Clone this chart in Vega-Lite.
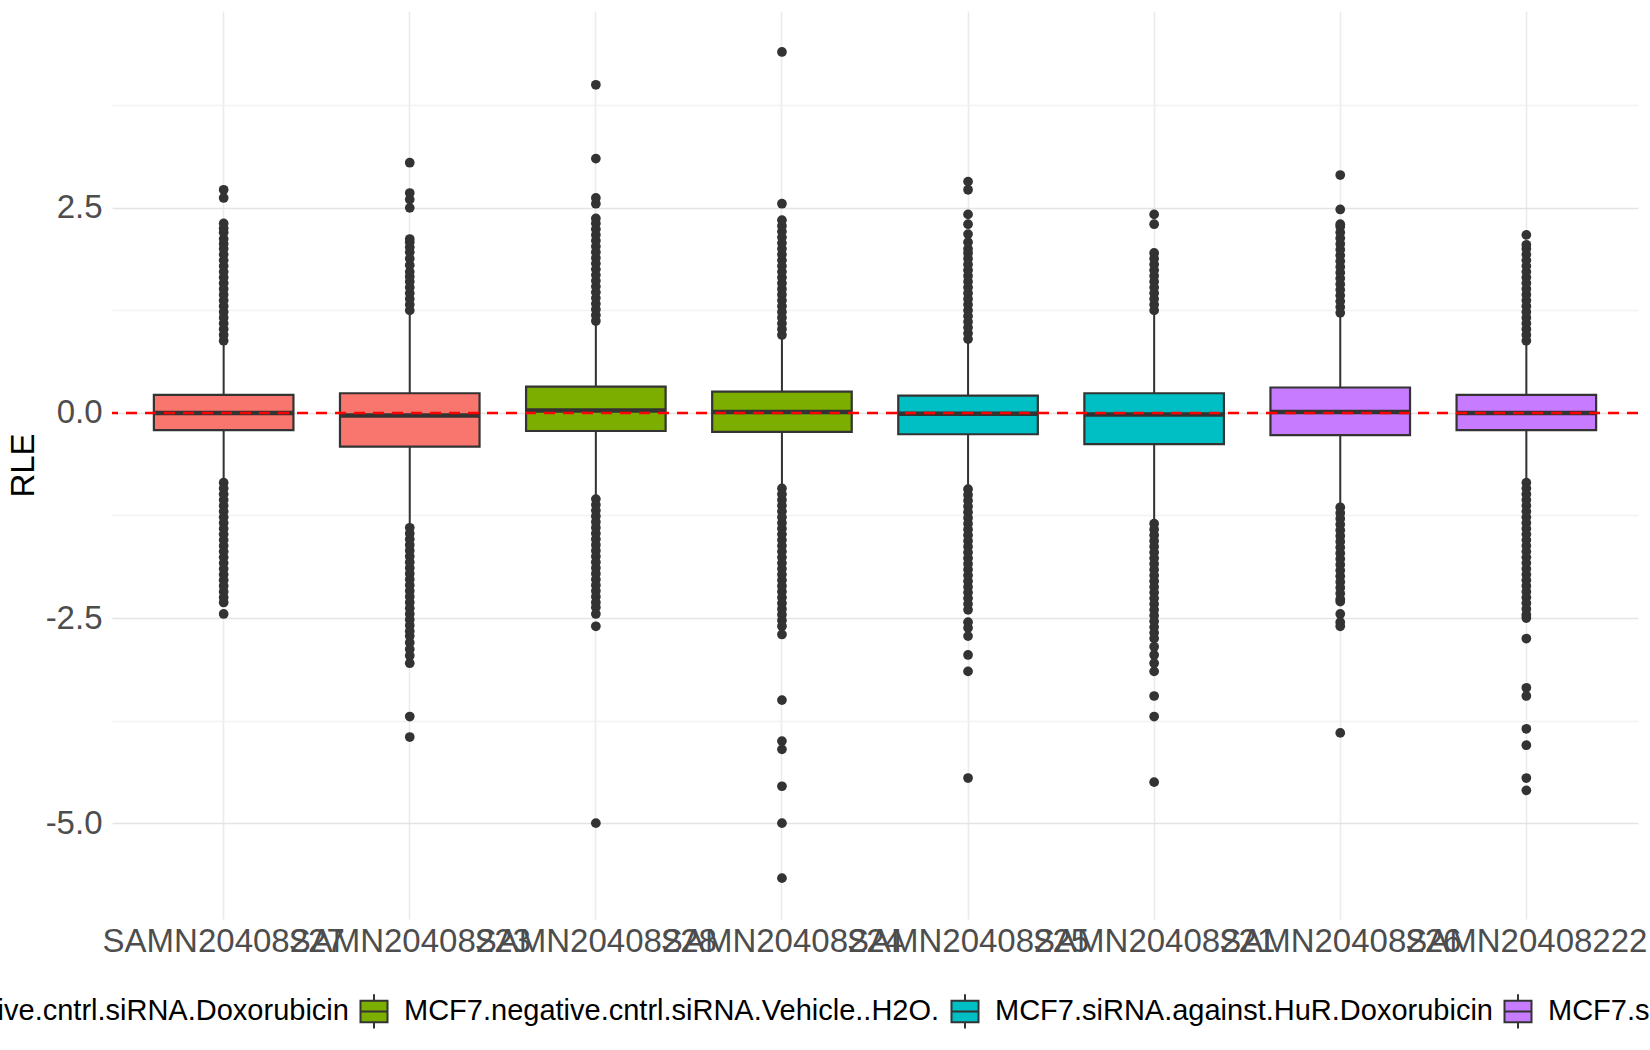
{
"$schema":"https://vega.github.io/schema/vega-lite/v6.json",
"autosize":"none",
"width":1526,"height":908,
"padding":{"left":112,"top":11,"right":12,"bottom":131},
"background":"white",
"config":{"font":"Liberation Sans","view":{"stroke":null}},
"datasets":{
"boxes":[
{"s":"SAMN20408227","g":"MCF7.negative.cntrl.siRNA.Doxorubicin","lo":-0.83,"q1":-0.21,"med":0.0,"q3":0.22,"hi":0.85},
{"s":"SAMN20408223","g":"MCF7.negative.cntrl.siRNA.Doxorubicin","lo":-1.37,"q1":-0.41,"med":-0.03,"q3":0.24,"hi":1.2},
{"s":"SAMN20408228","g":"MCF7.negative.cntrl.siRNA.Vehicle..H2O.","lo":-1.02,"q1":-0.22,"med":0.03,"q3":0.32,"hi":1.1},
{"s":"SAMN20408224","g":"MCF7.negative.cntrl.siRNA.Vehicle..H2O.","lo":-0.89,"q1":-0.23,"med":0.01,"q3":0.26,"hi":0.92},
{"s":"SAMN20408225","g":"MCF7.siRNA.against.HuR.Doxorubicin","lo":-0.9,"q1":-0.26,"med":-0.01,"q3":0.21,"hi":0.87},
{"s":"SAMN20408221","g":"MCF7.siRNA.against.HuR.Doxorubicin","lo":-1.32,"q1":-0.38,"med":-0.02,"q3":0.24,"hi":1.22},
{"s":"SAMN20408226","g":"MCF7.siRNA.against.HuR.Vehicle..H2O.","lo":-1.12,"q1":-0.27,"med":0.01,"q3":0.31,"hi":1.19},
{"s":"SAMN20408222","g":"MCF7.siRNA.against.HuR.Vehicle..H2O.","lo":-0.82,"q1":-0.21,"med":0.0,"q3":0.22,"hi":0.85}
],
"ref":[{"y":0}],
"out":[
{"s":"SAMN20408227","v":0.88},{"s":"SAMN20408227","v":0.95},{"s":"SAMN20408227","v":1.02},{"s":"SAMN20408227","v":1.09},{"s":"SAMN20408227","v":1.16},{"s":"SAMN20408227","v":1.23},{"s":"SAMN20408227","v":1.30},{"s":"SAMN20408227","v":1.37},{"s":"SAMN20408227","v":1.44},{"s":"SAMN20408227","v":1.51},{"s":"SAMN20408227","v":1.58},{"s":"SAMN20408227","v":1.65},{"s":"SAMN20408227","v":1.72},{"s":"SAMN20408227","v":1.79},{"s":"SAMN20408227","v":1.86},{"s":"SAMN20408227","v":1.93},{"s":"SAMN20408227","v":2.00},{"s":"SAMN20408227","v":2.06},{"s":"SAMN20408227","v":2.12},{"s":"SAMN20408227","v":2.20},{"s":"SAMN20408227","v":2.25},{"s":"SAMN20408227","v":2.31},{"s":"SAMN20408227","v":2.62},{"s":"SAMN20408227","v":2.72},
{"s":"SAMN20408227","v":-0.85},{"s":"SAMN20408227","v":-0.92},{"s":"SAMN20408227","v":-0.99},{"s":"SAMN20408227","v":-1.06},{"s":"SAMN20408227","v":-1.13},{"s":"SAMN20408227","v":-1.20},{"s":"SAMN20408227","v":-1.27},{"s":"SAMN20408227","v":-1.34},{"s":"SAMN20408227","v":-1.41},{"s":"SAMN20408227","v":-1.48},{"s":"SAMN20408227","v":-1.55},{"s":"SAMN20408227","v":-1.62},{"s":"SAMN20408227","v":-1.69},{"s":"SAMN20408227","v":-1.76},{"s":"SAMN20408227","v":-1.83},{"s":"SAMN20408227","v":-1.90},{"s":"SAMN20408227","v":-1.97},{"s":"SAMN20408227","v":-2.04},{"s":"SAMN20408227","v":-2.11},{"s":"SAMN20408227","v":-2.18},{"s":"SAMN20408227","v":-2.25},{"s":"SAMN20408227","v":-2.31},{"s":"SAMN20408227","v":-2.45},
{"s":"SAMN20408223","v":1.25},{"s":"SAMN20408223","v":1.32},{"s":"SAMN20408223","v":1.39},{"s":"SAMN20408223","v":1.46},{"s":"SAMN20408223","v":1.53},{"s":"SAMN20408223","v":1.60},{"s":"SAMN20408223","v":1.66},{"s":"SAMN20408223","v":1.72},{"s":"SAMN20408223","v":1.80},{"s":"SAMN20408223","v":1.88},{"s":"SAMN20408223","v":1.96},{"s":"SAMN20408223","v":2.02},{"s":"SAMN20408223","v":2.08},{"s":"SAMN20408223","v":2.12},{"s":"SAMN20408223","v":2.50},{"s":"SAMN20408223","v":2.60},{"s":"SAMN20408223","v":2.68},{"s":"SAMN20408223","v":3.05},
{"s":"SAMN20408223","v":-1.40},{"s":"SAMN20408223","v":-1.47},{"s":"SAMN20408223","v":-1.54},{"s":"SAMN20408223","v":-1.61},{"s":"SAMN20408223","v":-1.68},{"s":"SAMN20408223","v":-1.75},{"s":"SAMN20408223","v":-1.82},{"s":"SAMN20408223","v":-1.89},{"s":"SAMN20408223","v":-1.96},{"s":"SAMN20408223","v":-2.03},{"s":"SAMN20408223","v":-2.10},{"s":"SAMN20408223","v":-2.17},{"s":"SAMN20408223","v":-2.24},{"s":"SAMN20408223","v":-2.31},{"s":"SAMN20408223","v":-2.38},{"s":"SAMN20408223","v":-2.45},{"s":"SAMN20408223","v":-2.52},{"s":"SAMN20408223","v":-2.59},{"s":"SAMN20408223","v":-2.66},{"s":"SAMN20408223","v":-2.72},{"s":"SAMN20408223","v":-2.80},{"s":"SAMN20408223","v":-2.88},{"s":"SAMN20408223","v":-2.96},{"s":"SAMN20408223","v":-3.05},{"s":"SAMN20408223","v":-3.70},{"s":"SAMN20408223","v":-3.95},
{"s":"SAMN20408228","v":1.12},{"s":"SAMN20408228","v":1.19},{"s":"SAMN20408228","v":1.26},{"s":"SAMN20408228","v":1.33},{"s":"SAMN20408228","v":1.40},{"s":"SAMN20408228","v":1.47},{"s":"SAMN20408228","v":1.54},{"s":"SAMN20408228","v":1.61},{"s":"SAMN20408228","v":1.68},{"s":"SAMN20408228","v":1.75},{"s":"SAMN20408228","v":1.82},{"s":"SAMN20408228","v":1.89},{"s":"SAMN20408228","v":1.96},{"s":"SAMN20408228","v":2.03},{"s":"SAMN20408228","v":2.10},{"s":"SAMN20408228","v":2.17},{"s":"SAMN20408228","v":2.24},{"s":"SAMN20408228","v":2.31},{"s":"SAMN20408228","v":2.37},{"s":"SAMN20408228","v":2.55},{"s":"SAMN20408228","v":2.62},{"s":"SAMN20408228","v":3.10},{"s":"SAMN20408228","v":4.00},
{"s":"SAMN20408228","v":-1.05},{"s":"SAMN20408228","v":-1.12},{"s":"SAMN20408228","v":-1.19},{"s":"SAMN20408228","v":-1.26},{"s":"SAMN20408228","v":-1.33},{"s":"SAMN20408228","v":-1.40},{"s":"SAMN20408228","v":-1.47},{"s":"SAMN20408228","v":-1.54},{"s":"SAMN20408228","v":-1.61},{"s":"SAMN20408228","v":-1.68},{"s":"SAMN20408228","v":-1.75},{"s":"SAMN20408228","v":-1.82},{"s":"SAMN20408228","v":-1.89},{"s":"SAMN20408228","v":-1.96},{"s":"SAMN20408228","v":-2.03},{"s":"SAMN20408228","v":-2.10},{"s":"SAMN20408228","v":-2.17},{"s":"SAMN20408228","v":-2.24},{"s":"SAMN20408228","v":-2.31},{"s":"SAMN20408228","v":-2.37},{"s":"SAMN20408228","v":-2.45},{"s":"SAMN20408228","v":-2.60},{"s":"SAMN20408228","v":-5.00},
{"s":"SAMN20408224","v":0.95},{"s":"SAMN20408224","v":1.02},{"s":"SAMN20408224","v":1.09},{"s":"SAMN20408224","v":1.16},{"s":"SAMN20408224","v":1.23},{"s":"SAMN20408224","v":1.30},{"s":"SAMN20408224","v":1.37},{"s":"SAMN20408224","v":1.44},{"s":"SAMN20408224","v":1.51},{"s":"SAMN20408224","v":1.58},{"s":"SAMN20408224","v":1.65},{"s":"SAMN20408224","v":1.72},{"s":"SAMN20408224","v":1.79},{"s":"SAMN20408224","v":1.86},{"s":"SAMN20408224","v":1.93},{"s":"SAMN20408224","v":2.00},{"s":"SAMN20408224","v":2.07},{"s":"SAMN20408224","v":2.14},{"s":"SAMN20408224","v":2.21},{"s":"SAMN20408224","v":2.28},{"s":"SAMN20408224","v":2.35},{"s":"SAMN20408224","v":2.55},{"s":"SAMN20408224","v":4.40},
{"s":"SAMN20408224","v":-0.92},{"s":"SAMN20408224","v":-0.99},{"s":"SAMN20408224","v":-1.06},{"s":"SAMN20408224","v":-1.13},{"s":"SAMN20408224","v":-1.20},{"s":"SAMN20408224","v":-1.27},{"s":"SAMN20408224","v":-1.34},{"s":"SAMN20408224","v":-1.41},{"s":"SAMN20408224","v":-1.48},{"s":"SAMN20408224","v":-1.55},{"s":"SAMN20408224","v":-1.62},{"s":"SAMN20408224","v":-1.69},{"s":"SAMN20408224","v":-1.76},{"s":"SAMN20408224","v":-1.83},{"s":"SAMN20408224","v":-1.90},{"s":"SAMN20408224","v":-1.97},{"s":"SAMN20408224","v":-2.04},{"s":"SAMN20408224","v":-2.11},{"s":"SAMN20408224","v":-2.18},{"s":"SAMN20408224","v":-2.25},{"s":"SAMN20408224","v":-2.32},{"s":"SAMN20408224","v":-2.39},{"s":"SAMN20408224","v":-2.46},{"s":"SAMN20408224","v":-2.53},{"s":"SAMN20408224","v":-2.60},{"s":"SAMN20408224","v":-2.70},{"s":"SAMN20408224","v":-3.50},{"s":"SAMN20408224","v":-4.00},{"s":"SAMN20408224","v":-4.10},{"s":"SAMN20408224","v":-4.55},{"s":"SAMN20408224","v":-5.00},{"s":"SAMN20408224","v":-5.67},
{"s":"SAMN20408225","v":0.90},{"s":"SAMN20408225","v":0.97},{"s":"SAMN20408225","v":1.04},{"s":"SAMN20408225","v":1.11},{"s":"SAMN20408225","v":1.18},{"s":"SAMN20408225","v":1.25},{"s":"SAMN20408225","v":1.32},{"s":"SAMN20408225","v":1.39},{"s":"SAMN20408225","v":1.46},{"s":"SAMN20408225","v":1.53},{"s":"SAMN20408225","v":1.60},{"s":"SAMN20408225","v":1.67},{"s":"SAMN20408225","v":1.74},{"s":"SAMN20408225","v":1.81},{"s":"SAMN20408225","v":1.88},{"s":"SAMN20408225","v":1.95},{"s":"SAMN20408225","v":2.00},{"s":"SAMN20408225","v":2.08},{"s":"SAMN20408225","v":2.18},{"s":"SAMN20408225","v":2.30},{"s":"SAMN20408225","v":2.42},{"s":"SAMN20408225","v":2.72},{"s":"SAMN20408225","v":2.82},
{"s":"SAMN20408225","v":-0.93},{"s":"SAMN20408225","v":-1.00},{"s":"SAMN20408225","v":-1.07},{"s":"SAMN20408225","v":-1.14},{"s":"SAMN20408225","v":-1.21},{"s":"SAMN20408225","v":-1.28},{"s":"SAMN20408225","v":-1.35},{"s":"SAMN20408225","v":-1.42},{"s":"SAMN20408225","v":-1.49},{"s":"SAMN20408225","v":-1.56},{"s":"SAMN20408225","v":-1.63},{"s":"SAMN20408225","v":-1.70},{"s":"SAMN20408225","v":-1.77},{"s":"SAMN20408225","v":-1.84},{"s":"SAMN20408225","v":-1.91},{"s":"SAMN20408225","v":-1.98},{"s":"SAMN20408225","v":-2.05},{"s":"SAMN20408225","v":-2.12},{"s":"SAMN20408225","v":-2.19},{"s":"SAMN20408225","v":-2.26},{"s":"SAMN20408225","v":-2.33},{"s":"SAMN20408225","v":-2.40},{"s":"SAMN20408225","v":-2.55},{"s":"SAMN20408225","v":-2.62},{"s":"SAMN20408225","v":-2.72},{"s":"SAMN20408225","v":-2.95},{"s":"SAMN20408225","v":-3.15},{"s":"SAMN20408225","v":-4.45},
{"s":"SAMN20408221","v":1.25},{"s":"SAMN20408221","v":1.32},{"s":"SAMN20408221","v":1.39},{"s":"SAMN20408221","v":1.46},{"s":"SAMN20408221","v":1.53},{"s":"SAMN20408221","v":1.60},{"s":"SAMN20408221","v":1.67},{"s":"SAMN20408221","v":1.74},{"s":"SAMN20408221","v":1.81},{"s":"SAMN20408221","v":1.88},{"s":"SAMN20408221","v":1.95},{"s":"SAMN20408221","v":2.30},{"s":"SAMN20408221","v":2.42},
{"s":"SAMN20408221","v":-1.35},{"s":"SAMN20408221","v":-1.42},{"s":"SAMN20408221","v":-1.49},{"s":"SAMN20408221","v":-1.56},{"s":"SAMN20408221","v":-1.63},{"s":"SAMN20408221","v":-1.70},{"s":"SAMN20408221","v":-1.77},{"s":"SAMN20408221","v":-1.84},{"s":"SAMN20408221","v":-1.91},{"s":"SAMN20408221","v":-1.98},{"s":"SAMN20408221","v":-2.05},{"s":"SAMN20408221","v":-2.12},{"s":"SAMN20408221","v":-2.19},{"s":"SAMN20408221","v":-2.26},{"s":"SAMN20408221","v":-2.33},{"s":"SAMN20408221","v":-2.40},{"s":"SAMN20408221","v":-2.47},{"s":"SAMN20408221","v":-2.54},{"s":"SAMN20408221","v":-2.61},{"s":"SAMN20408221","v":-2.68},{"s":"SAMN20408221","v":-2.75},{"s":"SAMN20408221","v":-2.85},{"s":"SAMN20408221","v":-2.95},{"s":"SAMN20408221","v":-3.05},{"s":"SAMN20408221","v":-3.15},{"s":"SAMN20408221","v":-3.45},{"s":"SAMN20408221","v":-3.70},{"s":"SAMN20408221","v":-4.50},
{"s":"SAMN20408226","v":1.22},{"s":"SAMN20408226","v":1.29},{"s":"SAMN20408226","v":1.36},{"s":"SAMN20408226","v":1.43},{"s":"SAMN20408226","v":1.50},{"s":"SAMN20408226","v":1.57},{"s":"SAMN20408226","v":1.64},{"s":"SAMN20408226","v":1.71},{"s":"SAMN20408226","v":1.78},{"s":"SAMN20408226","v":1.85},{"s":"SAMN20408226","v":1.92},{"s":"SAMN20408226","v":1.99},{"s":"SAMN20408226","v":2.06},{"s":"SAMN20408226","v":2.13},{"s":"SAMN20408226","v":2.20},{"s":"SAMN20408226","v":2.27},{"s":"SAMN20408226","v":2.30},{"s":"SAMN20408226","v":2.48},{"s":"SAMN20408226","v":2.90},
{"s":"SAMN20408226","v":-1.15},{"s":"SAMN20408226","v":-1.22},{"s":"SAMN20408226","v":-1.29},{"s":"SAMN20408226","v":-1.36},{"s":"SAMN20408226","v":-1.43},{"s":"SAMN20408226","v":-1.50},{"s":"SAMN20408226","v":-1.57},{"s":"SAMN20408226","v":-1.64},{"s":"SAMN20408226","v":-1.71},{"s":"SAMN20408226","v":-1.78},{"s":"SAMN20408226","v":-1.85},{"s":"SAMN20408226","v":-1.92},{"s":"SAMN20408226","v":-1.99},{"s":"SAMN20408226","v":-2.06},{"s":"SAMN20408226","v":-2.13},{"s":"SAMN20408226","v":-2.20},{"s":"SAMN20408226","v":-2.27},{"s":"SAMN20408226","v":-2.30},{"s":"SAMN20408226","v":-2.45},{"s":"SAMN20408226","v":-2.55},{"s":"SAMN20408226","v":-2.60},{"s":"SAMN20408226","v":-3.90},
{"s":"SAMN20408222","v":0.88},{"s":"SAMN20408222","v":0.95},{"s":"SAMN20408222","v":1.02},{"s":"SAMN20408222","v":1.09},{"s":"SAMN20408222","v":1.16},{"s":"SAMN20408222","v":1.23},{"s":"SAMN20408222","v":1.30},{"s":"SAMN20408222","v":1.37},{"s":"SAMN20408222","v":1.44},{"s":"SAMN20408222","v":1.51},{"s":"SAMN20408222","v":1.58},{"s":"SAMN20408222","v":1.65},{"s":"SAMN20408222","v":1.72},{"s":"SAMN20408222","v":1.79},{"s":"SAMN20408222","v":1.86},{"s":"SAMN20408222","v":1.93},{"s":"SAMN20408222","v":2.00},{"s":"SAMN20408222","v":2.05},{"s":"SAMN20408222","v":2.17},
{"s":"SAMN20408222","v":-0.85},{"s":"SAMN20408222","v":-0.92},{"s":"SAMN20408222","v":-0.99},{"s":"SAMN20408222","v":-1.06},{"s":"SAMN20408222","v":-1.13},{"s":"SAMN20408222","v":-1.20},{"s":"SAMN20408222","v":-1.27},{"s":"SAMN20408222","v":-1.34},{"s":"SAMN20408222","v":-1.41},{"s":"SAMN20408222","v":-1.48},{"s":"SAMN20408222","v":-1.55},{"s":"SAMN20408222","v":-1.62},{"s":"SAMN20408222","v":-1.69},{"s":"SAMN20408222","v":-1.76},{"s":"SAMN20408222","v":-1.83},{"s":"SAMN20408222","v":-1.90},{"s":"SAMN20408222","v":-1.97},{"s":"SAMN20408222","v":-2.04},{"s":"SAMN20408222","v":-2.11},{"s":"SAMN20408222","v":-2.18},{"s":"SAMN20408222","v":-2.25},{"s":"SAMN20408222","v":-2.32},{"s":"SAMN20408222","v":-2.39},{"s":"SAMN20408222","v":-2.46},{"s":"SAMN20408222","v":-2.50},{"s":"SAMN20408222","v":-2.75},{"s":"SAMN20408222","v":-3.35},{"s":"SAMN20408222","v":-3.45},{"s":"SAMN20408222","v":-3.85},{"s":"SAMN20408222","v":-4.05},{"s":"SAMN20408222","v":-4.45},{"s":"SAMN20408222","v":-4.60}
]
},
"layer":[
{"data":{"name":"boxes"},
 "mark":{"type":"rule","color":"#333333","strokeWidth":2},
 "encoding":{
  "x":{"field":"s","type":"nominal",
   "scale":{"type":"band","paddingInner":0.25,"paddingOuter":0.225,"domain":["SAMN20408227","SAMN20408223","SAMN20408228","SAMN20408224","SAMN20408225","SAMN20408221","SAMN20408226","SAMN20408222"]},
   "axis":{"title":null,"labelAngle":0,"labelFontSize":33,"labelColor":"#4D4D4D","ticks":false,"domain":false,"grid":true,"gridColor":"#EBEBEB","gridWidth":1.6,"labelPadding":6,"labelOverlap":false,"labelLimit":0,"labelBound":false,"labelFlush":false}},
  "y":{"field":"lo","type":"quantitative","title":"RLE",
   "scale":{"domain":[-6.168,4.899],"nice":false,"zero":false},
   "axis":{"values":[-5,-3.75,-2.5,-1.25,0,1.25,2.5,3.75],
    "labelExpr":"datum.value % 2.5 === 0 ? replace(format(datum.value, '.1f'), '\u2212', '-') : ''",
    "labelFontSize":33,"labelColor":"#4D4D4D","labelPadding":10,"ticks":false,"domain":false,
    "grid":true,
    "gridColor":{"condition":{"test":"datum.value % 2.5 === 0","value":"#E4E4E4"},"value":"#F2F2F2"},
    "gridWidth":{"condition":{"test":"datum.value % 2.5 === 0","value":1.6},"value":1.4},
    "titleFontSize":33,"titleFontWeight":"normal","titleColor":"#000000","titlePadding":5}},
  "y2":{"field":"hi"}
 }},
{"data":{"name":"out"},
 "mark":{"type":"point","filled":true,"color":"#333333","opacity":1,"size":95},
 "encoding":{
  "x":{"field":"s","type":"nominal"},
  "y":{"field":"v","type":"quantitative","title":"RLE"}
 }},
{"data":{"name":"boxes"},
 "mark":{"type":"bar","stroke":"#333333","strokeWidth":2.2,"opacity":1},
 "encoding":{
  "x":{"field":"s","type":"nominal"},
  "y":{"field":"q1","type":"quantitative","title":"RLE"},
  "y2":{"field":"q3"},
  "fill":{"field":"g","type":"nominal",
   "scale":{"domain":["MCF7.negative.cntrl.siRNA.Doxorubicin","MCF7.negative.cntrl.siRNA.Vehicle..H2O.","MCF7.siRNA.against.HuR.Doxorubicin","MCF7.siRNA.against.HuR.Vehicle..H2O."],"range":["#F8766D","#7CAE00","#00BFC4","#C77CFF"]},
   "legend":{"title":null,"orient":"none","legendX":-323,"legendY":981,"direction":"horizontal","columns":4,
    "labelFontSize":29,"labelColor":"#000000","labelLimit":0,
    "symbolType":"M-0.75,-0.6H0.75V0.6H-0.75Z M-0.75,0H0.75 M0,-0.6V-0.95 M0,0.6V0.95",
    "symbolSize":1296,"symbolStrokeColor":"#333333","symbolStrokeWidth":2,"symbolOpacity":1,
    "labelOffset":11,"columnPadding":6,"padding":0,
    "encode":{"symbols":{"update":{"stroke":{"value":"#333333"},"strokeWidth":{"value":2}}}}}}
 }},
{"data":{"name":"boxes"},
 "mark":{"type":"tick","color":"#333333","thickness":4.5,"size":139,"orient":"horizontal","opacity":1},
 "encoding":{
  "x":{"field":"s","type":"nominal"},
  "y":{"field":"med","type":"quantitative","title":"RLE"}
 }},
{"data":{"name":"ref"},
 "mark":{"type":"rule","color":"#FF0000","strokeWidth":2.5,"strokeDash":[11,8]},
 "encoding":{"y":{"field":"y","type":"quantitative","title":"RLE"}}}
]
}
